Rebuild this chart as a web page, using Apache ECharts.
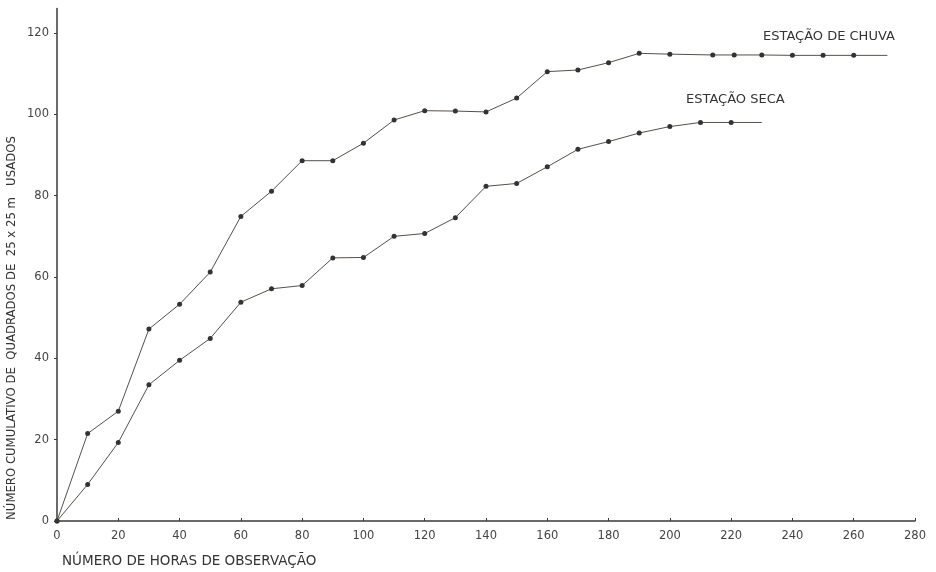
<!DOCTYPE html>
<html>
<head>
<meta charset="utf-8">
<script src="https://cdn.jsdelivr.net/npm/echarts@6/dist/echarts.min.js"></script>
<style>
html,body{margin:0;padding:0;background:#fff;}
#chart{width:936px;height:572px;}
</style>
</head>
<body>
<div id="chart"></div>
<script>
// ---- data ----
const hoursChuva = [0,10,20,30,40,50,60,70,80,90,100,110,120,130,140,150,160,170,180,190,200,214,221,230,240,250,260,271];
const chuva      = [0,21.5,27,47.2,53.3,61.2,74.9,81.1,88.6,88.6,92.9,98.6,100.9,100.8,100.6,104,110.5,110.9,112.7,115,114.8,114.6,114.6,114.6,114.5,114.5,114.5,114.5];
const hoursSeca  = [0,10,20,30,40,50,60,70,80,90,100,110,120,130,140,150,160,170,180,190,200,210,220,230];
const seca       = [0,9,19.3,33.5,39.5,44.9,53.8,57.1,57.9,64.7,64.8,70,70.7,74.6,82.3,83,87.1,91.4,93.3,95.4,97,98,98,98];
const xTicks = [0,20,40,60,80,100,120,140,160,180,200,220,240,260,280];
const yTicks = [0,20,40,60,80,100,120];
const nameChuva = 'ESTAÇÃO DE CHUVA';
const nameSeca  = 'ESTAÇÃO SECA';
const xTitle = 'NÚMERO DE HORAS DE OBSERVAÇÃO';
const yTitle = 'NÚMERO CUMULATIVO DE  QUADRADOS DE  25 x 25 m   USADOS';

const ink = '#3a3a3a';
function build(xs, ys){
  // last point of each curve is the end of the drawn line, without a dot
  return xs.map((x,i)=> i === xs.length-1 ? {value:[x,ys[i]], symbol:'none'} : [x,ys[i]]);
}

const chart = echarts.init(document.getElementById('chart'));
chart.setOption({
  animation:false,
  backgroundColor:'#fff',
  grid:{left:57, right:21, top:8.6, bottom:51},
  xAxis:{
    type:'value', min:0, max:280, interval:20,
    axisLine:{lineStyle:{color:ink, width:1.5}},
    axisTick:{show:true, inside:true, length:3, lineStyle:{color:ink}},
    axisLabel:{color:'#444', fontSize:11.5, margin:9, fontFamily:'DejaVu Sans'},
    splitLine:{show:false}
  },
  yAxis:{
    type:'value', min:0, max:126,
    axisLine:{show:true, lineStyle:{color:ink, width:1.5}},
    axisTick:{show:true, length:3, customValues:yTicks, lineStyle:{color:ink}},
    axisLabel:{color:'#444', fontSize:11.5, margin:8, fontFamily:'DejaVu Sans', customValues:yTicks},
    splitLine:{show:false}
  },
  series:[
    {name:nameChuva, type:'line', data:build(hoursChuva, chuva),
     symbol:'circle', symbolSize:5, lineStyle:{color:'#55504a', width:1},
     itemStyle:{color:'#333'}},
    {name:nameSeca, type:'line', data:build(hoursSeca, seca),
     symbol:'circle', symbolSize:5, lineStyle:{color:'#55504a', width:1},
     itemStyle:{color:'#333'}}
  ],
  graphic:[
    {type:'text', x:763, y:37, style:{text:nameChuva, fill:'#333', font:'13px "DejaVu Sans"', verticalAlign:'middle'}},
    {type:'text', x:686, y:100, style:{text:nameSeca, fill:'#333', font:'13px "DejaVu Sans"', verticalAlign:'middle'}},
    {type:'text', x:62, y:561, style:{text:xTitle, fill:'#333', font:'13.5px "DejaVu Sans"', verticalAlign:'middle'}},
    {type:'text', x:12, y:328, rotation:Math.PI/2, style:{text:yTitle, fill:'#333', font:'11.7px "DejaVu Sans"', align:'center', verticalAlign:'middle'}}
  ]
});
</script>
</body>
</html>
